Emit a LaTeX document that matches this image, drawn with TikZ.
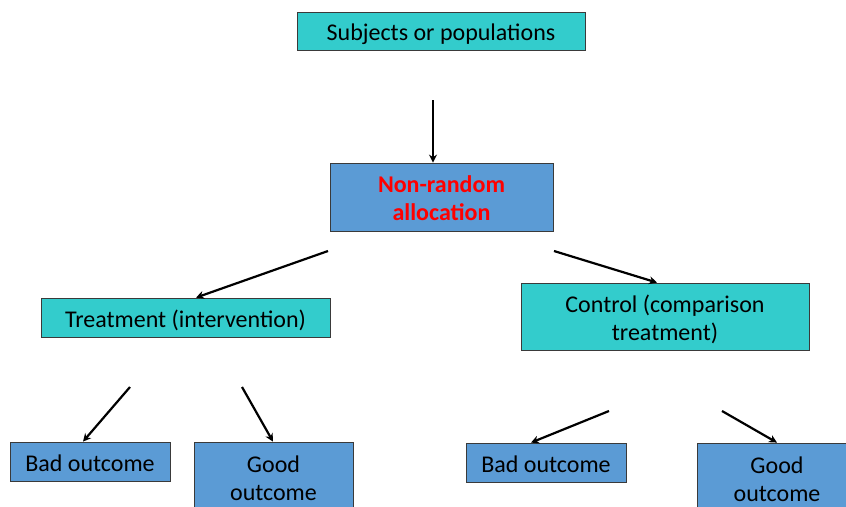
\documentclass[tikz,border=0pt]{standalone}
\usepackage{fontspec}
\setmainfont{Carlito}
\usetikzlibrary{arrows.meta}
\definecolor{tealbox}{HTML}{33CCCC}
\definecolor{bluebox}{HTML}{5B9BD5}
\definecolor{boxline}{HTML}{3A3A3A}
\newcommand{\firstline}[1]{\rule{0pt}{#1}}
\begin{document}
\begin{tikzpicture}[x=1pt,y=-1pt,
  box/.style={draw=boxline,line width=0.8pt,inner sep=0pt,align=center,
    font=\fontsize{24}{28.5}\selectfont},
  oneline/.style={text height=19.5pt,text depth=0pt},
  tealnode/.style={box,fill=tealbox},
  bluenode/.style={box,fill=bluebox},
  arr/.style={-{Stealth[length=8pt,width=8pt]},line width=2.2pt}]
\useasboundingbox (0,0) rectangle (846,506);
\begin{scope}
\clip (0,0) rectangle (846,506);
% boxes
\node[tealnode,oneline,minimum width=288,minimum height=38] (subj) at (441,31) {Subjects or populations};
\node[bluenode,minimum width=223,minimum height=68] (alloc) at (441.5,197)
  {\firstline{19pt}\color{red}\bfseries Non-random\\\color{red}\bfseries allocation};
\node[tealnode,oneline,minimum width=289,minimum height=39] (treat) at (185.5,317.5) {Treatment (intervention)};
\node[tealnode,minimum width=288,minimum height=67] (ctrl) at (665,316.5) {\firstline{23.4pt}Control (comparison\\treatment)};
\node[bluenode,oneline,minimum width=160,minimum height=39] (bad1) at (90,461.5) {Bad outcome};
\node[bluenode,minimum width=159,minimum height=68] (good1) at (273.5,476) {\firstline{21pt}Good\\outcome};
\node[bluenode,oneline,minimum width=160,minimum height=39] (bad2) at (546,462.5) {Bad outcome};
\node[bluenode,minimum width=160,minimum height=68] (good2) at (777,477) {\firstline{21pt}Good\\outcome};
\end{scope}
% free tails of the arrows
\coordinate (s0) at (433,100);
\coordinate (s1) at (328,251);
\coordinate (s2) at (554,251);
\coordinate (s3) at (130,387);
\coordinate (s4) at (242,387);
\coordinate (s5) at (609,411);
\coordinate (s6) at (722,411);
% arrows
\draw[arr] (s0) -- ([xshift=-8.5]alloc.north);
\draw[arr] (s1) -- ([xshift=10.5]treat.north);
\draw[arr] (s2) -- ([xshift=-8]ctrl.north);
\draw[arr] (s3) -- ([xshift=-7]bad1.north);
\draw[arr] (s4) -- ([xshift=-0.5]good1.north);
\draw[arr] (s5) -- ([xshift=-15]bad2.north);
\draw[arr] (s6) -- (good2.north);
\end{tikzpicture}
\end{document}
